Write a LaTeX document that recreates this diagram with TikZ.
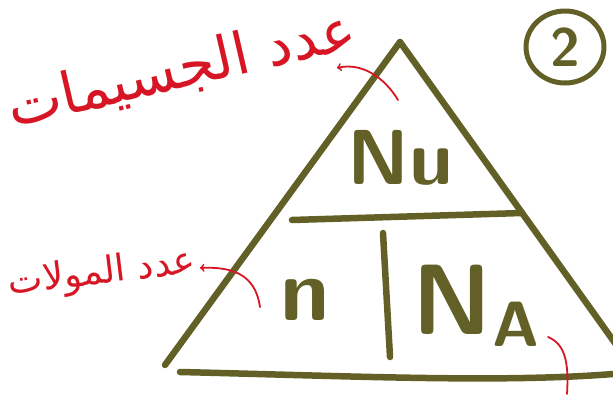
\documentclass[tikz,border=0pt]{standalone}
\usepackage{fontspec}
\newfontfamily\arabicfont[Script=Arabic]{DejaVu Sans}
\TeXXeTstate=1
\usetikzlibrary{shapes,arrows,positioning,calc}
\definecolor{pen}{RGB}{98,96,38}
\definecolor{ink}{RGB}{214,22,36}

\begin{document}
\begin{tikzpicture}[x=1pt,y=-1pt,line cap=round,line join=round,
    stroke/.style={draw=pen,line width=6.5pt},
    note/.style={draw=ink,line width=1.8pt},
    symb/.style={text=pen,font=\sffamily\bfseries\fontsize{#1}{#1}\selectfont,inner sep=0pt},
    arlabel/.style={text=ink,font=\arabicfont\fontsize{#1}{#1}\selectfont,inner sep=0pt}]
    \useasboundingbox (0,0) rectangle (613,394);
    \begin{scope}
        \clip (0,0) rectangle (613,394);
        % triangle
        \coordinate (apex) at (400,42);
        \coordinate (left) at (165,365);
        \coordinate (right) at (640,378);
        \coordinate (baseL) at (180,372);
        \coordinate (baseR) at (613,374);
        \draw[stroke] (apex) -- (left);
        \draw[stroke] (apex) -- (right);
        \draw[stroke] (baseL) .. controls (350,376) and (500,383) .. (baseR);
        \coordinate (midL) at (292,220);
        \coordinate (midR) at (522,213);
        \draw[stroke] (midL) -- (midR);
        \coordinate (divT) at (383,233);
        \coordinate (divB) at (390,357);
        \draw[stroke] (divT) -- (divB);
        % quantities
        \node[symb=78] (nu) at (400,158) {Nu};
        \node[symb=88] (n) at (305,300) {n};
        \node[symb=100] (na) at (476,306) {N\raisebox{-12pt}{\fontsize{64}{64}\selectfont A}};
        \node[ellipse,draw=pen,line width=5pt,minimum width=78pt,minimum height=72pt,
            symb=54] (num) at (565,47) {2};
        % red notes
        \node[arlabel=58,rotate=13] (particles) at (182,70) {\beginR عدد الجسيمات\endR};
        \node[arlabel=37,rotate=7] (moles) at (102,274) {\beginR عدد المولات\endR};
        \coordinate (p1) at (398,100);
        \coordinate (t1) at (337,68);
        \draw[note,->] (p1) .. controls (385,78) and (362,62) .. (t1);
        \coordinate (p2) at (260,307);
        \coordinate (t2) at (200,268);
        \draw[note,->] (p2) .. controls (256,280) and (240,266) .. (t2);
        \coordinate (p3) at (548,337);
        \coordinate (t3) at (567,394);
        \draw[note] (p3) .. controls (565,344) and (569,362) .. (t3);
    \end{scope}
\end{tikzpicture}
\end{document}
